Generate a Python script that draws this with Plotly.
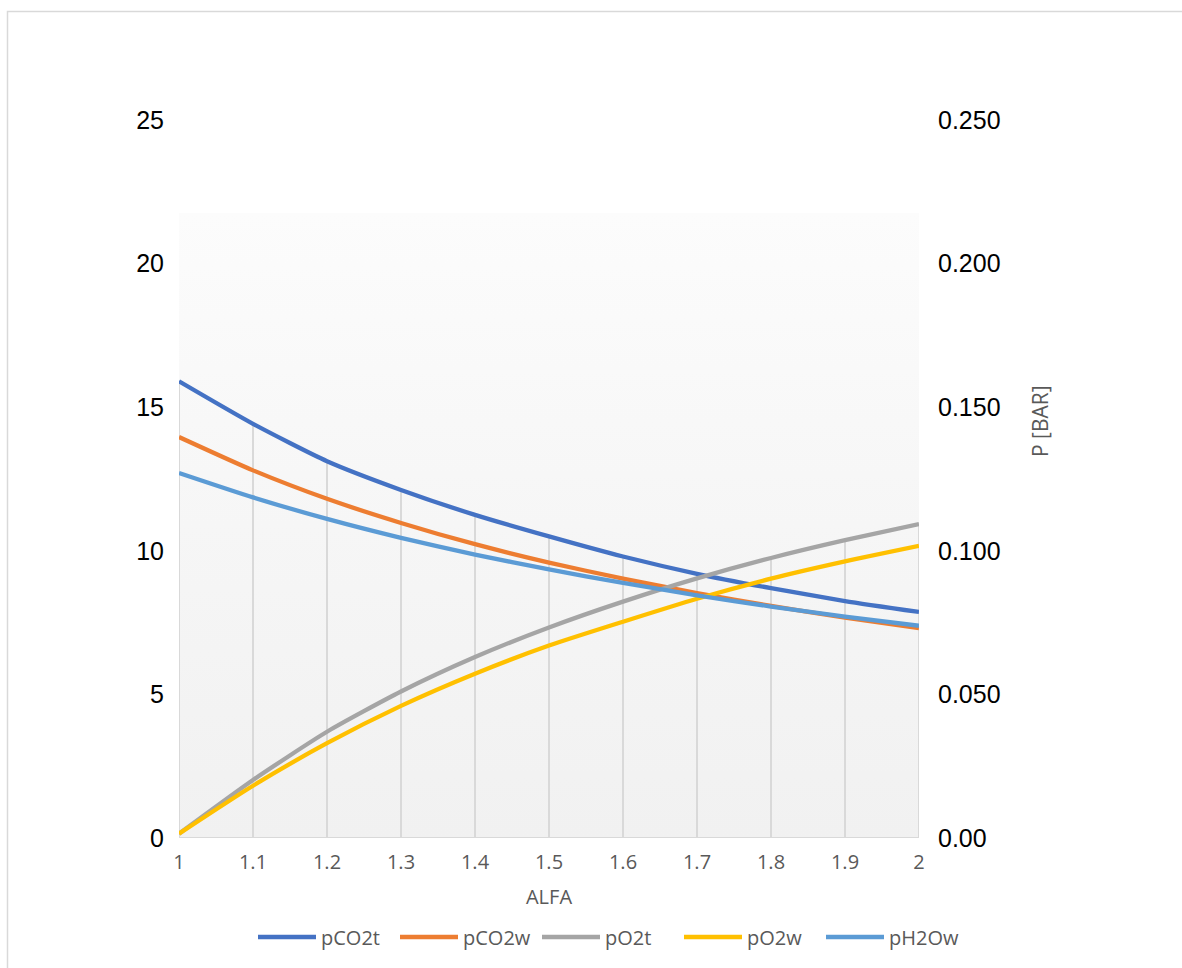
import plotly.graph_objects as go

alfa = [1.0, 1.1, 1.2, 1.3, 1.4, 1.5, 1.6, 1.7, 1.8, 1.9, 2.0]
pCO2t = [15.9, 14.42, 13.12, 12.12, 11.25, 10.5, 9.8, 9.2, 8.7, 8.25, 7.87]
pCO2w = [13.96, 12.8, 11.81, 10.97, 10.23, 9.59, 9.03, 8.53, 8.08, 7.67, 7.31]
pO2t = [0.15, 2.02, 3.7, 5.1, 6.3, 7.33, 8.23, 9.04, 9.75, 10.37, 10.93]
pO2w = [0.15, 1.82, 3.3, 4.6, 5.72, 6.7, 7.53, 8.33, 9.03, 9.63, 10.17]
pH2Ow = [12.71, 11.86, 11.11, 10.45, 9.87, 9.35, 8.88, 8.45, 8.06, 7.71, 7.39]

series_names = ["pCO2t", "pCO2w", "pO2t", "pO2w", "pH2Ow"]
series_vals = [pCO2t, pCO2w, pO2t, pO2w, pH2Ow]
series_colors = ["#4472C4", "#ED7D31", "#A5A5A5", "#FFC000", "#5B9BD5"]

left_ticks = [0, 5, 10, 15, 20, 25]
right_ticks = [0.0, 0.05, 0.10, 0.15, 0.20, 0.25]
right_ticktext = ["0.00", "0.050", "0.100", "0.150", "0.200", "0.250"]
x_ticks = [1, 1.1, 1.2, 1.3, 1.4, 1.5, 1.6, 1.7, 1.8, 1.9, 2]
x_ticktext = ["1", "1.1", "1.2", "1.3", "1.4", "1.5", "1.6", "1.7", "1.8", "1.9", "2"]

gradient_top = 21.76  # left-axis units, top of the shaded plot area

fig = go.Figure()

# plot area gradient background
fig.add_trace(go.Scatter(
    x=[alfa[0], alfa[-1], alfa[-1], alfa[0], alfa[0]],
    y=[0, 0, gradient_top, gradient_top, 0],
    mode="lines", line=dict(width=0), fill="toself",
    fillgradient=dict(type="vertical",
                      colorscale=[[0, "#f1f1f1"], [0.5, "#f6f6f6"], [1, "#fcfcfc"]]),
    hoverinfo="skip", showlegend=False))

# drop lines from the highest series value down to zero
drop_x, drop_y = [], []
for i, a in enumerate(alfa):
    top = max(s[i] for s in series_vals)
    drop_x += [a, a, None]
    drop_y += [0, top, None]
drop_x += [alfa[0], alfa[-1]]
drop_y += [0, 0]
fig.add_trace(go.Scatter(x=drop_x, y=drop_y, mode="lines",
                         line=dict(color="#d9d9d9", width=2),
                         hoverinfo="skip", showlegend=False))

for name, vals, col in zip(series_names, series_vals, series_colors):
    fig.add_trace(go.Scatter(x=alfa, y=vals, name=name, mode="lines",
                             line=dict(color=col, width=4.3, shape="spline", smoothing=0.6)))

# empty trace so the secondary (bar) axis is drawn
fig.add_trace(go.Scatter(x=[None], y=[None], yaxis="y2", mode="lines",
                         hoverinfo="skip", showlegend=False))

pl, pr, pt, pb = 179, 919, 120, 838
W, H = 1182, 968
pw, ph = pr - pl, pb - pt

fig.update_layout(
    width=W, height=H,
    margin=dict(l=pl, r=W - pr, t=pt, b=H - pb, autoexpand=False),
    paper_bgcolor="white", plot_bgcolor="rgba(0,0,0,0)",
    font=dict(family="Liberation Sans, Arial", color="#000000"),
    xaxis=dict(range=[1, 2], tickvals=x_ticks, ticktext=x_ticktext,
               showgrid=False, zeroline=False, showline=False, ticks="",
               tickfont=dict(family="Open Sans", size=20, color="#595959"),
               ticklabelstandoff=10,
               title=dict(text="ALFA", font=dict(family="Open Sans", size=20, color="#595959"),
                          standoff=15)),
    yaxis=dict(range=[0, 25], tickvals=left_ticks, showgrid=False, zeroline=False,
               showline=False, ticks="", ticklabelstandoff=14,
               tickfont=dict(size=25, color="#000000")),
    yaxis2=dict(range=[0, 0.25], tickvals=right_ticks, ticktext=right_ticktext,
                overlaying="y", side="right", showgrid=False, zeroline=False,
                showline=False, ticks="", ticklabelstandoff=18,
                tickfont=dict(size=25, color="#000000")),
    legend=dict(orientation="h", x=(608 - pl) / pw, xanchor="center",
                y=(pb - 937) / ph, yanchor="middle",
                font=dict(family="Open Sans", size=20, color="#595959"),
                itemwidth=58, entrywidth=69, bgcolor="rgba(0,0,0,0)"),
    annotations=[dict(text="P [BAR]", textangle=-90, showarrow=False,
                      xref="paper", yref="paper",
                      x=(1040 - pl) / pw, y=(pb - 421) / ph,
                      xanchor="center", yanchor="middle",
                      font=dict(family="Open Sans", size=21, color="#595959"))],
    shapes=[dict(type="rect", xref="paper", yref="paper",
                 x0=(7.5 - pl) / pw, x1=(W + 20 - pl) / pw,
                 y0=(pb - H - 20) / ph, y1=(pb - 11.5) / ph,
                 line=dict(color="#d9d9d9", width=1.5), layer="below")],
)

fig.write_html("out.html")
